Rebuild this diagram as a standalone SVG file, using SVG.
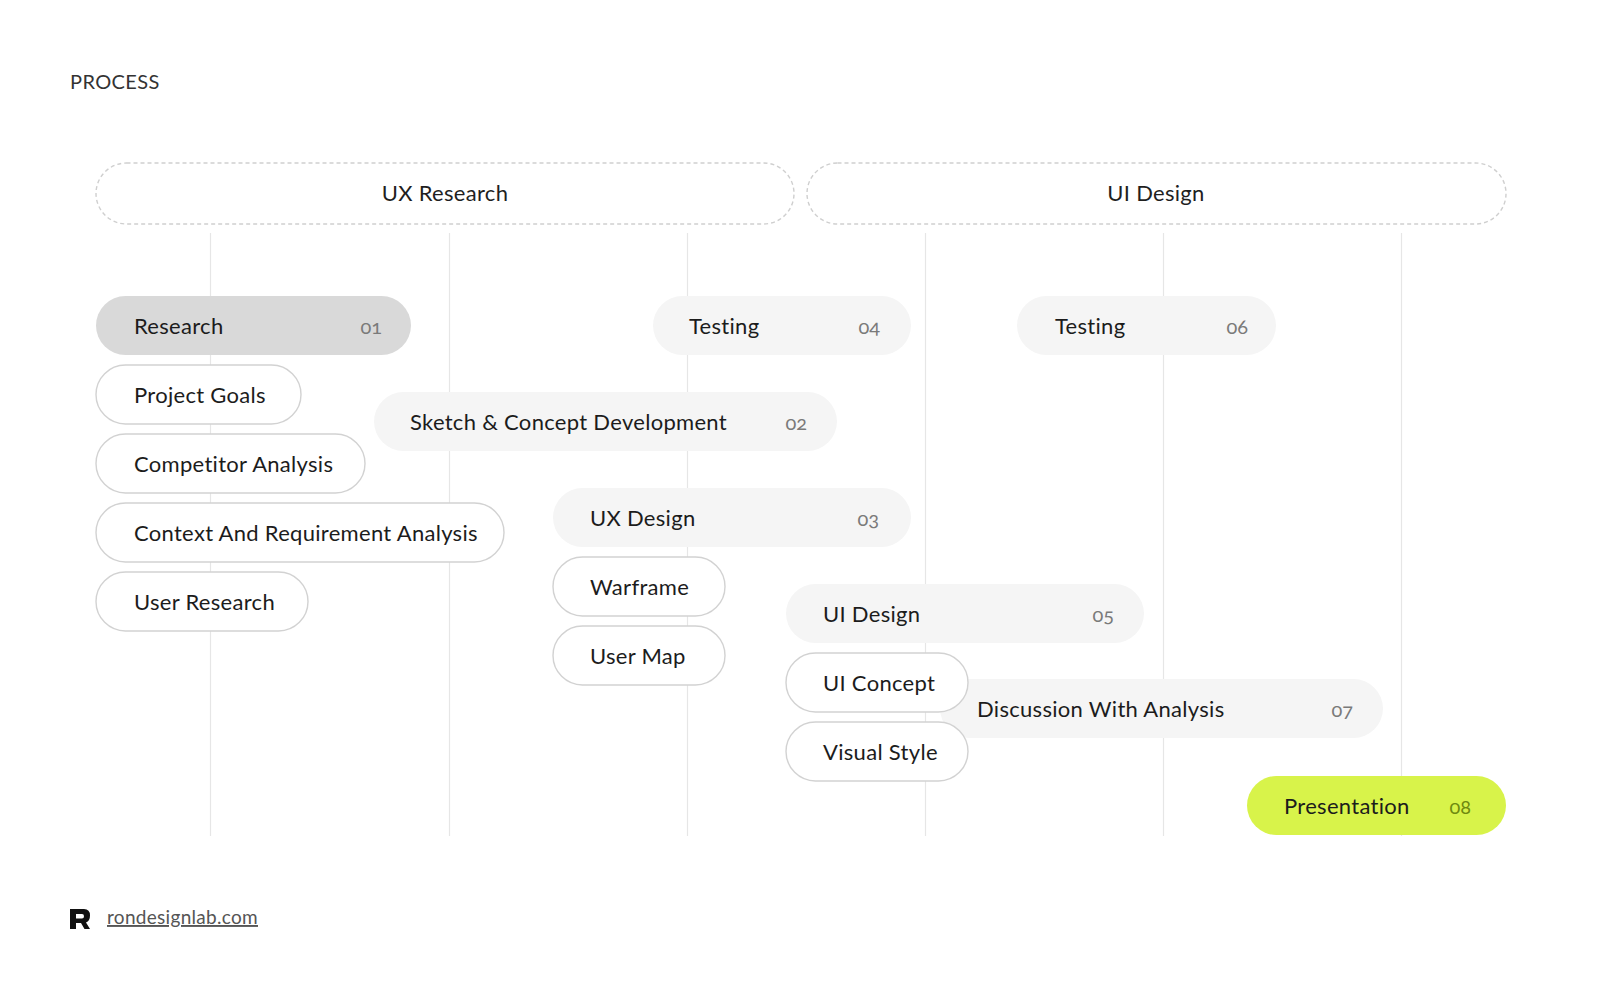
<svg xmlns="http://www.w3.org/2000/svg" width="1601" height="1001" viewBox="0 0 1601 1001">
<style>
  .bg{fill:#ffffff}
  .grid line{stroke:#e6e6e6;stroke-width:1.2}
  .phase{fill:#ffffff;stroke:#cfcfcf;stroke-width:1.4;stroke-dasharray:4 3}
  .phase-t{font-family:Lato,"Noto Sans",sans-serif;font-size:22px;letter-spacing:0.3px;fill:#1f1f1f;text-anchor:middle}
  .step{fill:#f5f5f5}
  .step-active{fill:#d9d9d9}
  .step-final{fill:#d8f34a}
  .sub{fill:#ffffff;stroke:#d2d2d2;stroke-width:1.4}
  .lbl{font-family:Lato,"Noto Sans",sans-serif;font-size:22px;letter-spacing:0.3px;fill:#1c1c1c}
  .num{font-family:Lato,"Noto Sans",sans-serif;font-size:20px;fill:#7a7a7a;text-anchor:end;font-variant-numeric:oldstyle-nums}
  .num-final{fill:#6f8a10}
  .title{font-family:Lato,"Noto Sans",sans-serif;font-size:20px;fill:#333333;letter-spacing:0.4px}
  .foot{font-family:Lato,"Noto Sans",sans-serif;font-size:19px;letter-spacing:0.3px;fill:#555555;text-decoration:underline}
</style>
<rect class="bg" x="0" y="0" width="1601" height="1001"/>

<text class="title" x="70" y="89">PROCESS</text>

<g id="connectors" class="grid">
  <line x1="210.5" y1="233" x2="210.5" y2="836"/>
  <line x1="449.5" y1="233" x2="449.5" y2="836"/>
  <line x1="687.5" y1="233" x2="687.5" y2="836"/>
  <line x1="925.5" y1="233" x2="925.5" y2="836"/>
  <line x1="1163.5" y1="233" x2="1163.5" y2="836"/>
  <line x1="1401.5" y1="233" x2="1401.5" y2="836"/>
</g>

<g id="phase-ux">
  <rect class="phase" x="96" y="163" width="698" height="61" rx="30.5"/>
  <text class="phase-t" x="445" y="201">UX Research</text>
</g>
<g id="phase-ui">
  <rect class="phase" x="807" y="163" width="699" height="61" rx="30.5"/>
  <text class="phase-t" x="1156" y="201">UI Design</text>
</g>

<g id="step-01">
  <rect class="step-active" x="96" y="296" width="315" height="59" rx="29.5"/>
  <text class="lbl" x="134" y="334">Research</text>
  <text class="num" x="382" y="334">01</text>
</g>
<g id="sub-project-goals">
  <rect class="sub" x="96" y="365" width="205" height="59" rx="29.5"/>
  <text class="lbl" x="134" y="403">Project Goals</text>
</g>
<g id="sub-competitor">
  <rect class="sub" x="96" y="434" width="269" height="59" rx="29.5"/>
  <text class="lbl" x="134" y="472">Competitor Analysis</text>
</g>
<g id="sub-context">
  <rect class="sub" x="96" y="503" width="408" height="59" rx="29.5"/>
  <text class="lbl" x="134" y="541">Context And Requirement Analysis</text>
</g>
<g id="sub-user-research">
  <rect class="sub" x="96" y="572" width="212" height="59" rx="29.5"/>
  <text class="lbl" x="134" y="610">User Research</text>
</g>

<g id="step-02">
  <rect class="step" x="374" y="392" width="463" height="59" rx="29.5"/>
  <text class="lbl" x="410" y="430">Sketch &amp; Concept Development</text>
  <text class="num" x="807" y="430">02</text>
</g>

<g id="step-03">
  <rect class="step" x="553" y="488" width="358" height="59" rx="29.5"/>
  <text class="lbl" x="590" y="526">UX Design</text>
  <text class="num" x="879" y="526">03</text>
</g>
<g id="sub-warframe">
  <rect class="sub" x="553" y="557" width="172" height="59" rx="29.5"/>
  <text class="lbl" x="590" y="595">Warframe</text>
</g>
<g id="sub-user-map">
  <rect class="sub" x="553" y="626" width="172" height="59" rx="29.5"/>
  <text class="lbl" x="590" y="664">User Map</text>
</g>

<g id="step-04">
  <rect class="step" x="653" y="296" width="258" height="59" rx="29.5"/>
  <text class="lbl" x="689" y="334">Testing</text>
  <text class="num" x="880" y="334">04</text>
</g>

<g id="step-05">
  <rect class="step" x="786" y="584" width="358" height="59" rx="29.5"/>
  <text class="lbl" x="823" y="622">UI Design</text>
  <text class="num" x="1114" y="622">05</text>
</g>

<g id="step-06">
  <rect class="step" x="1017" y="296" width="259" height="59" rx="29.5"/>
  <text class="lbl" x="1055" y="334">Testing</text>
  <text class="num" x="1248" y="334">06</text>
</g>

<g id="step-07">
  <rect class="step" x="940" y="679" width="443" height="59" rx="29.5"/>
  <text class="lbl" x="977" y="717">Discussion With Analysis</text>
  <text class="num" x="1353" y="717">07</text>
</g>

<g id="sub-ui-concept">
  <rect class="sub" x="786" y="653" width="182" height="59" rx="29.5"/>
  <text class="lbl" x="823" y="691">UI Concept</text>
</g>
<g id="sub-visual-style">
  <rect class="sub" x="786" y="722" width="182" height="59" rx="29.5"/>
  <text class="lbl" x="823" y="760">Visual Style</text>
</g>

<g id="step-08">
  <rect class="step-final" x="1247" y="776" width="259" height="59" rx="29.5"/>
  <text class="lbl" x="1284" y="814">Presentation</text>
  <text class="num num-final" x="1471" y="814">08</text>
</g>

<g id="footer">
  <path d="M70 909 H84 Q90 909 90 915.5 Q90 921 86 922.5 L90 929 H84.5 L81 923 H76 V929 H70 Z M76 914 V918.5 H82 Q84 918.5 84 916.2 Q84 914 82 914 Z" fill="#111111" fill-rule="evenodd"/>
  <text class="foot" x="107" y="924">rondesignlab.com</text>
</g>
</svg>
